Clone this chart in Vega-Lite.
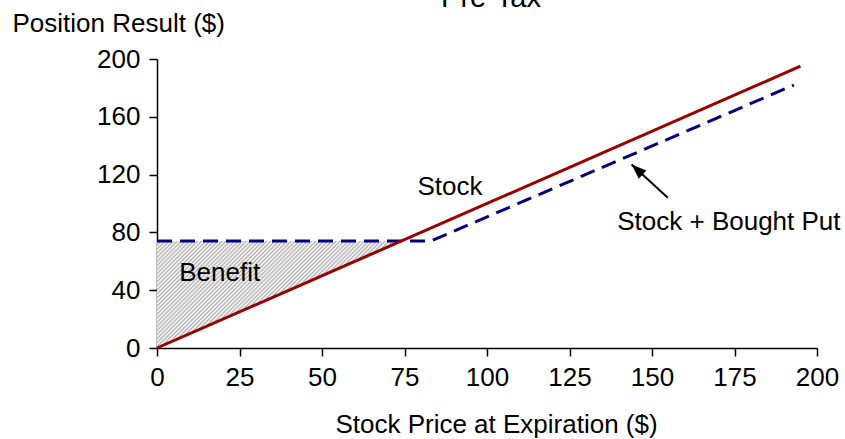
{
  "$schema": "https://vega.github.io/schema/vega-lite/v6.json",
  "width": 660,
  "height": 289,
  "autosize": {"type": "none"},
  "padding": {"left": 157, "top": 59, "right": 28, "bottom": 91},
  "background": "white",
  "title": {
    "text": "Pre-Tax",
    "font": "Liberation Sans",
    "fontSize": 29,
    "fontWeight": "normal",
    "color": "black",
    "anchor": "middle",
    "frame": "group",
    "baseline": "alphabetic",
    "offset": 0,
    "dx": 4,
    "dy": 26
  },
  "datasets": {
    "stock": [
      {"price": 0, "result": 0},
      {"price": 195, "result": 195}
    ],
    "hedged": [
      {"price": 0, "result": 74},
      {"price": 83, "result": 74},
      {"price": 193, "result": 182}
    ],
    "benefit": [
      {"price": 0, "result": 0, "top": 74},
      {"price": 74, "result": 74, "top": 74}
    ],
    "labels": [
      {"price": 88.8, "result": 106, "text": "Stock"},
      {"price": 173.3, "result": 82, "text": "Stock + Bought Put"},
      {"price": 19, "result": 46.6, "text": "Benefit"}
    ],
    "arrow": [
      {"price": 154.8, "result": 104, "price2": 143.8, "result2": 127}
    ]
  },
  "encoding": {
    "x": {
      "field": "price",
      "type": "quantitative",
      "scale": {"domain": [0, 200], "nice": false, "zero": false},
      "axis": {
        "title": "Stock Price at Expiration ($)",
        "values": [0, 25, 50, 75, 100, 125, 150, 175, 200],
        "labelFlush": false,
        "tickSize": 8,
        "labelPadding": 8,
        "titlePadding": 21,
        "titleX": 339
      }
    },
    "y": {
      "field": "result",
      "type": "quantitative",
      "scale": {"domain": [0, 200], "nice": false, "zero": false},
      "axis": {
        "title": "Position Result ($)",
        "values": [0, 40, 80, 120, 160, 200],
        "tickSize": 8,
        "labelPadding": 9,
        "titleAngle": 0,
        "titleAlign": "left",
        "titleBaseline": "alphabetic",
        "titleX": -145,
        "titleY": -28
      }
    }
  },
  "layer": [
    {
      "data": {"name": "benefit"},
      "mark": {
        "type": "area",
        "stroke": null,
        "fill": {
          "gradient": "linear",
          "x1": 0, "y1": 0, "x2": 0.8386, "y2": 0.3678,
          "stops": [
            {"offset": 0, "color": "#b0b0b0"}, {"offset": 0.0083, "color": "#ffffff"}, {"offset": 0.0167, "color": "#b0b0b0"}, {"offset": 0.025, "color": "#ffffff"}, {"offset": 0.0333, "color": "#b0b0b0"}, {"offset": 0.0417, "color": "#ffffff"}, {"offset": 0.05, "color": "#b0b0b0"}, {"offset": 0.0583, "color": "#ffffff"}, {"offset": 0.0667, "color": "#b0b0b0"}, {"offset": 0.075, "color": "#ffffff"}, {"offset": 0.0833, "color": "#b0b0b0"}, {"offset": 0.0917, "color": "#ffffff"},
            {"offset": 0.1, "color": "#b0b0b0"}, {"offset": 0.1083, "color": "#ffffff"}, {"offset": 0.1167, "color": "#b0b0b0"}, {"offset": 0.125, "color": "#ffffff"}, {"offset": 0.1333, "color": "#b0b0b0"}, {"offset": 0.1417, "color": "#ffffff"}, {"offset": 0.15, "color": "#b0b0b0"}, {"offset": 0.1583, "color": "#ffffff"}, {"offset": 0.1667, "color": "#b0b0b0"}, {"offset": 0.175, "color": "#ffffff"}, {"offset": 0.1833, "color": "#b0b0b0"}, {"offset": 0.1917, "color": "#ffffff"},
            {"offset": 0.2, "color": "#b0b0b0"}, {"offset": 0.2083, "color": "#ffffff"}, {"offset": 0.2167, "color": "#b0b0b0"}, {"offset": 0.225, "color": "#ffffff"}, {"offset": 0.2333, "color": "#b0b0b0"}, {"offset": 0.2417, "color": "#ffffff"}, {"offset": 0.25, "color": "#b0b0b0"}, {"offset": 0.2583, "color": "#ffffff"}, {"offset": 0.2667, "color": "#b0b0b0"}, {"offset": 0.275, "color": "#ffffff"}, {"offset": 0.2833, "color": "#b0b0b0"}, {"offset": 0.2917, "color": "#ffffff"},
            {"offset": 0.3, "color": "#b0b0b0"}, {"offset": 0.3083, "color": "#ffffff"}, {"offset": 0.3167, "color": "#b0b0b0"}, {"offset": 0.325, "color": "#ffffff"}, {"offset": 0.3333, "color": "#b0b0b0"}, {"offset": 0.3417, "color": "#ffffff"}, {"offset": 0.35, "color": "#b0b0b0"}, {"offset": 0.3583, "color": "#ffffff"}, {"offset": 0.3667, "color": "#b0b0b0"}, {"offset": 0.375, "color": "#ffffff"}, {"offset": 0.3833, "color": "#b0b0b0"}, {"offset": 0.3917, "color": "#ffffff"},
            {"offset": 0.4, "color": "#b0b0b0"}, {"offset": 0.4083, "color": "#ffffff"}, {"offset": 0.4167, "color": "#b0b0b0"}, {"offset": 0.425, "color": "#ffffff"}, {"offset": 0.4333, "color": "#b0b0b0"}, {"offset": 0.4417, "color": "#ffffff"}, {"offset": 0.45, "color": "#b0b0b0"}, {"offset": 0.4583, "color": "#ffffff"}, {"offset": 0.4667, "color": "#b0b0b0"}, {"offset": 0.475, "color": "#ffffff"}, {"offset": 0.4833, "color": "#b0b0b0"}, {"offset": 0.4917, "color": "#ffffff"},
            {"offset": 0.5, "color": "#b0b0b0"}, {"offset": 0.5083, "color": "#ffffff"}, {"offset": 0.5167, "color": "#b0b0b0"}, {"offset": 0.525, "color": "#ffffff"}, {"offset": 0.5333, "color": "#b0b0b0"}, {"offset": 0.5417, "color": "#ffffff"}, {"offset": 0.55, "color": "#b0b0b0"}, {"offset": 0.5583, "color": "#ffffff"}, {"offset": 0.5667, "color": "#b0b0b0"}, {"offset": 0.575, "color": "#ffffff"}, {"offset": 0.5833, "color": "#b0b0b0"}, {"offset": 0.5917, "color": "#ffffff"},
            {"offset": 0.6, "color": "#b0b0b0"}, {"offset": 0.6083, "color": "#ffffff"}, {"offset": 0.6167, "color": "#b0b0b0"}, {"offset": 0.625, "color": "#ffffff"}, {"offset": 0.6333, "color": "#b0b0b0"}, {"offset": 0.6417, "color": "#ffffff"}, {"offset": 0.65, "color": "#b0b0b0"}, {"offset": 0.6583, "color": "#ffffff"}, {"offset": 0.6667, "color": "#b0b0b0"}, {"offset": 0.675, "color": "#ffffff"}, {"offset": 0.6833, "color": "#b0b0b0"}, {"offset": 0.6917, "color": "#ffffff"},
            {"offset": 0.7, "color": "#b0b0b0"}, {"offset": 0.7083, "color": "#ffffff"}, {"offset": 0.7167, "color": "#b0b0b0"}, {"offset": 0.725, "color": "#ffffff"}, {"offset": 0.7333, "color": "#b0b0b0"}, {"offset": 0.7417, "color": "#ffffff"}, {"offset": 0.75, "color": "#b0b0b0"}, {"offset": 0.7583, "color": "#ffffff"}, {"offset": 0.7667, "color": "#b0b0b0"}, {"offset": 0.775, "color": "#ffffff"}, {"offset": 0.7833, "color": "#b0b0b0"}, {"offset": 0.7917, "color": "#ffffff"},
            {"offset": 0.8, "color": "#b0b0b0"}, {"offset": 0.8083, "color": "#ffffff"}, {"offset": 0.8167, "color": "#b0b0b0"}, {"offset": 0.825, "color": "#ffffff"}, {"offset": 0.8333, "color": "#b0b0b0"}, {"offset": 0.8417, "color": "#ffffff"}, {"offset": 0.85, "color": "#b0b0b0"}, {"offset": 0.8583, "color": "#ffffff"}, {"offset": 0.8667, "color": "#b0b0b0"}, {"offset": 0.875, "color": "#ffffff"}, {"offset": 0.8833, "color": "#b0b0b0"}, {"offset": 0.8917, "color": "#ffffff"},
            {"offset": 0.9, "color": "#b0b0b0"}, {"offset": 0.9083, "color": "#ffffff"}, {"offset": 0.9167, "color": "#b0b0b0"}, {"offset": 0.925, "color": "#ffffff"}, {"offset": 0.9333, "color": "#b0b0b0"}, {"offset": 0.9417, "color": "#ffffff"}, {"offset": 0.95, "color": "#b0b0b0"}, {"offset": 0.9583, "color": "#ffffff"}, {"offset": 0.9667, "color": "#b0b0b0"}, {"offset": 0.975, "color": "#ffffff"}, {"offset": 0.9833, "color": "#b0b0b0"}, {"offset": 0.9917, "color": "#ffffff"},
            {"offset": 1, "color": "#b0b0b0"}
          ]
        }
      },
      "encoding": {"y2": {"field": "top"}}
    },
    {
      "data": {"name": "hedged"},
      "mark": {"type": "line", "color": "#000080", "strokeWidth": 3, "strokeDash": [15, 8]},
      "encoding": {}
    },
    {
      "data": {"name": "stock"},
      "mark": {"type": "line", "color": "#990000", "strokeWidth": 3},
      "encoding": {}
    },
    {
      "data": {"name": "labels"},
      "mark": {"type": "text", "font": "Liberation Sans", "fontSize": 26, "color": "black", "align": "center", "baseline": "alphabetic"},
      "encoding": {"text": {"field": "text"}}
    },
    {
      "data": {"name": "arrow"},
      "mark": {"type": "rule", "color": "black", "strokeWidth": 2},
      "encoding": {"x2": {"field": "price2"}, "y2": {"field": "result2"}}
    },
    {
      "data": {"name": "arrow"},
      "mark": {"type": "point", "shape": "M0,0L-0.7,1.9L0.7,1.9Z", "filled": true, "color": "black", "opacity": 1, "size": 250, "angle": 312.5},
      "encoding": {"x": {"field": "price2", "type": "quantitative"}, "y": {"field": "result2", "type": "quantitative"}}
    }
  ],
  "config": {
    "view": {"stroke": null},
    "axis": {
      "grid": false,
      "domainColor": "black",
      "domainWidth": 1.5,
      "tickColor": "black",
      "tickWidth": 1.5,
      "labelColor": "black",
      "titleColor": "black",
      "labelFont": "Liberation Sans",
      "titleFont": "Liberation Sans",
      "labelFontSize": 26,
      "titleFontSize": 26,
      "titleFontWeight": "normal"
    }
  }
}
